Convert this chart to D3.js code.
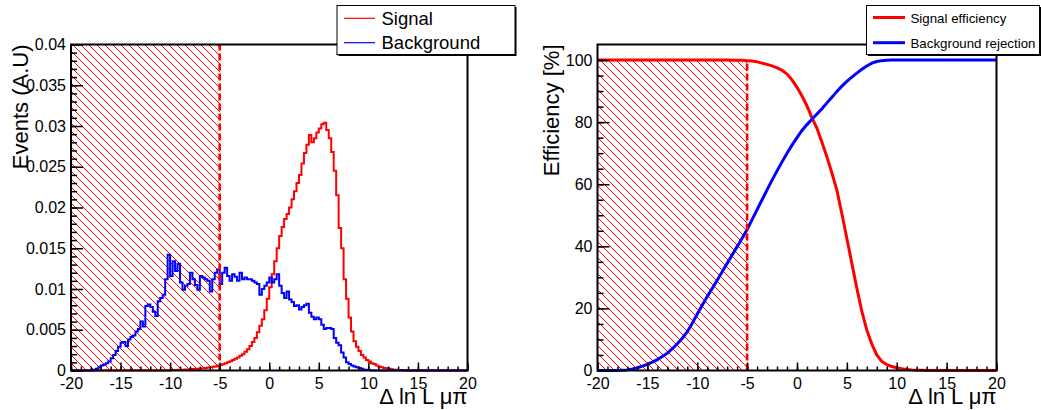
<!DOCTYPE html>
<html><head><meta charset="utf-8">
<script src="https://cdn.jsdelivr.net/npm/d3@7"></script>
<style>
body{margin:0;background:#fff;}
svg{display:block;font-family:"Liberation Sans",Arial,Helvetica,sans-serif;}
</style></head><body>
<svg id="c" width="1041" height="410"></svg>
<script>
// ---------------- data ----------------
const xTickValues = [-20,-15,-10,-5,0,5,10,15,20];
const xTickLabels = ["-20","-15","-10","-5","0","5","10","15","20"];
const eventsTickValues = [0,0.005,0.01,0.015,0.02,0.025,0.03,0.035,0.04];
const eventsTickLabels = ["0","0.005","0.01","0.015","0.02","0.025","0.03","0.035","0.04"];
const effTickValues = [0,20,40,60,80,100];
const effTickLabels = ["0","20","40","60","80","100"];
const cutValue = -5;
const xDomain = [-20, 20];

// Signal histogram: bins of 0.25 starting at -10
const signalStart = -10, signalBinWidth = 0.25;
const signalValues = [
 0.00005,0.00005,0.00007,0.00008,0.0001,0.0001,0.00012,0.00013,0.00015,0.00017,
 0.0002,0.00022,0.00025,0.00028,0.00032,0.00036,0.0004,0.00045,0.0005,0.00058,
 0.00068,0.00078,0.0009,0.001,0.00115,0.0013,0.00145,0.0016,0.0018,0.002,
 0.0023,0.0026,0.003,0.0035,0.004,0.0047,0.0055,0.0063,0.0074,0.0088,
 0.0102,0.0118,0.0134,0.015,0.0165,0.0176,0.0186,0.0192,0.02,0.021,
 0.022,0.023,0.024,0.0254,0.0267,0.0277,0.0289,0.028,0.0285,0.0292,
 0.0297,0.0302,0.0304,0.0295,0.0285,0.0268,0.0245,0.0215,0.0175,0.015,
 0.0112,0.0088,0.0065,0.0048,0.0036,0.0029,0.0024,0.0019,0.0016,0.0013,
 0.0011,0.0009,0.0008,0.0006,0.0005,0.0004,0.0003,0.0003,0.0002,0.00015,
 0.0001,0.0001,0.00005,0.00005,0.00003,0.00002];

// Background histogram: bins of 0.25 starting at -18
const backgroundStart = -18, backgroundBinWidth = 0.25;
const backgroundValues = [
 0,0.0001,0.0002,0.0004,0.0006,0.0007,0.0009,0.0011,0.0015,0.0019,
 0.0024,0.0029,0.0034,0.0035,0.003,0.0038,0.0041,0.0043,0.0048,0.0051,
 0.006,0.0054,0.0079,0.0081,0.0078,0.0072,0.0067,0.0085,0.0089,0.0093,
 0.0112,0.0142,0.0116,0.0134,0.0122,0.0131,0.0108,0.0099,0.0104,0.0106,
 0.012,0.0112,0.0105,0.0099,0.0116,0.0114,0.0112,0.011,0.0097,0.0112,
 0.012,0.0124,0.0106,0.012,0.0126,0.0116,0.011,0.0118,0.0115,0.011,
 0.012,0.0112,0.0114,0.0112,0.0112,0.011,0.0108,0.0106,0.0093,0.01,
 0.0104,0.0108,0.0114,0.0108,0.0112,0.0118,0.0104,0.0095,0.0089,0.0097,
 0.0087,0.0084,0.0079,0.008,0.0075,0.0078,0.008,0.0082,0.0071,0.0066,
 0.0063,0.0065,0.0063,0.0056,0.0051,0.0052,0.0052,0.0051,0.004,0.0034,
 0.0031,0.0022,0.0016,0.001,0.0008,0.0006,0.0005,0.0004,0.0003,0.0002,
 0.0001,0.0001,0.00005];

// Efficiency curves: cut values from -20 to 20 every 0.5
const effStart = -20, effStep = 0.5;
const signalEfficiency = [
 100,100,100,100,100,100,100,100,100,100,
 100,100,100,100,100,100,100,100,100,100,
 100,100,100,100,100,100,100,99.95,99.9,99.9,
 99.8,99.7,99.4,99.0,98.6,98.1,97.5,96.7,95.5,93.6,
 91.2,88.4,85.2,81.4,78.0,73.5,68.8,63.6,58.0,50.5,
 42.5,34.5,26.5,19.0,13.0,8.5,5.0,2.9,1.9,1.3,
 0.9,0.6,0.35,0.2,0.1,0.05,0,0,0,0,
 0,0,0,0,0,0,0,0,0,0,0];
const backgroundRejection = [
 0,0,0,0,0,0.1,0.2,0.5,0.9,1.4,
 2.0,2.7,3.5,4.5,5.6,7.0,8.6,10.4,12.5,15.2,
 18.2,21.0,23.8,26.4,29.1,31.8,34.5,37.2,39.9,42.6,
 45.4,48.6,51.8,55.0,58.2,61.3,64.3,67.2,70.0,72.6,
 75.0,77.3,79.2,80.9,82.6,84.3,86.2,88.0,89.9,91.6,
 93.1,94.5,95.8,97.0,98.1,99.0,99.5,99.8,99.9,100,
 100,100,100,100,100,100,100,100,100,100,
 100,100,100,100,100,100,100,100,100,100,100];

const leftLegend = ["Signal","Background"];
const rightLegend = ["Signal efficiency","Background rejection"];
const seriesColors = ["#ff0000","#0000ff"];
const xTitle = "\u0394 ln L \u03bc\u03c0";
const leftYTitle = "Events (A.U)";
const rightYTitle = "Efficiency [%]";

// ---------------- drawing ----------------
const svg = d3.select("#c");
svg.append("rect").attr("width",1041).attr("height",410).attr("fill","#fff");

function histPoints(start, w, vals){
  const pts = [[xDomain[0],0],[start,0]];
  vals.forEach((v,i)=>{ const lo=start+i*w; pts.push([lo,v]); pts.push([lo+w,v]); });
  pts.push([start+vals.length*w,0]); pts.push([xDomain[1],0]);
  return pts;
}

function drawPanel(o){
  const g = svg.append("g");
  const x = d3.scaleLinear().domain(xDomain).range([o.x0,o.x1]);
  const y = d3.scaleLinear().domain(o.yDomain).range([o.y1,o.y0]);
  // hatch: 45-degree pixel lines, clipped analytically to the cut region
  const hx0=Math.round(x(xDomain[0])), hx1=x(cutValue), hy0=Math.round(y(o.hatchTop)), hy1=y(0), H=hy1-hy0;
  let k0 = Math.round(-H-8);
  if (((hx0 + k0 - hy0) % 2 + 2) % 2 !== 0) k0 -= 1;   // keep (x - y) even for a clean pixel line
  let hp = "";
  for (let d = k0; d < hx1 - hx0 + 8; d += 8) {
    const sx = hx0 + d;
    const t0 = Math.max(0, hx0 - sx), t1 = Math.min(H, hx1 - sx);
    if (t1 > t0) hp += `M${sx+t0},${hy0+t0}L${sx+t1},${hy0+t1}`;
  }
  g.append("path").attr("d",hp).attr("fill","none")
    .attr("stroke","#ff0000").attr("stroke-width",1).attr("shape-rendering","crispEdges");
  // curves
  const line = d3.line().x(d=>x(d[0])).y(d=>y(d[1]));
  o.series.forEach((s,i)=>{
    g.append("path").attr("d",line(s)).attr("fill","none")
      .attr("stroke",seriesColors[i]).attr("stroke-width",o.lw).attr("stroke-linejoin","miter");
  });
  // dashed cut line
  g.append("line").attr("x1",x(cutValue)).attr("x2",x(cutValue))
    .attr("y1",y(0)).attr("y2",y(o.hatchTop))
    .attr("stroke","#ff0000").attr("stroke-width",2.6).attr("stroke-dasharray","7,3");
  // axes (ticks inside)
  const axes = [];
  axes.push(g.append("g").attr("transform",`translate(0,${y(o.yDomain[0])})`)
    .call(d3.axisBottom(x).tickValues(xTickValues).tickFormat((d,i)=>xTickLabels[i])
      .tickSizeInner(-8).tickSizeOuter(0).tickPadding(7)));
  axes.push(g.append("g").attr("transform",`translate(0,${y(o.yDomain[0])})`)
    .call(d3.axisBottom(x).tickValues(d3.range(-20,21,1)).tickFormat("").tickSizeInner(-4).tickSizeOuter(0)));
  axes.push(g.append("g").attr("transform",`translate(${x(xDomain[0])},0)`)
    .call(d3.axisLeft(y).tickValues(o.yTicks).tickFormat((d,i)=>o.yLabels[i])
      .tickSizeInner(-12).tickSizeOuter(0).tickPadding(5)));
  axes.push(g.append("g").attr("transform",`translate(${x(xDomain[0])},0)`)
    .call(d3.axisLeft(y).tickValues(o.yMinor).tickFormat("").tickSizeInner(-6).tickSizeOuter(0)));
  axes.forEach(a=>{
    a.select(".domain").remove();
    a.selectAll(".tick line").attr("stroke","#000").attr("stroke-width",1.5);
    a.selectAll(".tick text").attr("font-size",16).attr("fill","#000")
      .attr("font-family","'Liberation Sans',Arial,sans-serif");
  });
  // frame
  g.append("rect").attr("x",o.x0).attr("y",o.y0).attr("width",o.x1-o.x0).attr("height",o.y1-o.y0)
    .attr("fill","none").attr("stroke","#000").attr("stroke-width",2);
  // titles
  g.append("text").attr("x",o.x1).attr("y",404).attr("text-anchor","end")
    .attr("font-size",22).text(xTitle);
  g.append("text").attr("transform",`translate(${o.yTitleX},${o.y0}) rotate(-90)`)
    .attr("text-anchor","end").attr("font-size",22).text(o.yTitle);
  // legend
  const L = o.legend;
  const lg = svg.append("g");
  lg.append("rect").attr("x",L.x0+1.5).attr("y",L.y0+1.5).attr("width",L.x1-L.x0).attr("height",L.y1-L.y0).attr("fill","#000");
  lg.append("rect").attr("x",L.x0).attr("y",L.y0).attr("width",L.x1-L.x0).attr("height",L.y1-L.y0)
    .attr("fill","#fff").attr("stroke","#000").attr("stroke-width",1);
  L.labels.forEach((t,i)=>{
    const ly = L.rows[i];
    lg.append("line").attr("x1",L.lx0).attr("x2",L.lx1).attr("y1",ly).attr("y2",ly)
      .attr("stroke",seriesColors[i]).attr("stroke-width",L.lw);
    lg.append("text").attr("x",L.tx).attr("y",ly+L.dy).attr("font-size",L.fs).text(t);
  });
}

drawPanel({
  id:"L", x0:71, x1:467.5, y0:44.5, y1:370.5, yDomain:[0,0.04], hatchTop:0.04,
  yTicks:eventsTickValues, yLabels:eventsTickLabels, yMinor:d3.range(0,0.0405,0.001),
  series:[histPoints(signalStart,signalBinWidth,signalValues), histPoints(backgroundStart,backgroundBinWidth,backgroundValues)],
  lw:2, yTitle:leftYTitle, yTitleX:28,
  legend:{x0:337,x1:515,y0:5.5,y1:54.5,rows:[18.3,42.7],lx0:344,lx1:375,lw:1.2,tx:381.5,dy:6.5,fs:18.5,labels:leftLegend}
});

drawPanel({
  id:"R", x0:597.5, x1:996.5, y0:44.5, y1:370.5, yDomain:[0,105], hatchTop:100,
  yTicks:effTickValues, yLabels:effTickLabels, yMinor:d3.range(0,105,5),
  series:[signalEfficiency.map((v,i)=>[effStart+i*effStep,v]), backgroundRejection.map((v,i)=>[effStart+i*effStep,v])],
  lw:3, yTitle:rightYTitle, yTitleX:559,
  legend:{x0:866.5,x1:1039.5,y0:5.5,y1:54.5,rows:[17.5,42.7],lx0:873,lx1:905,lw:3,tx:910.5,dy:5.5,fs:13.3,labels:rightLegend}
});
</script>
</body></html>
